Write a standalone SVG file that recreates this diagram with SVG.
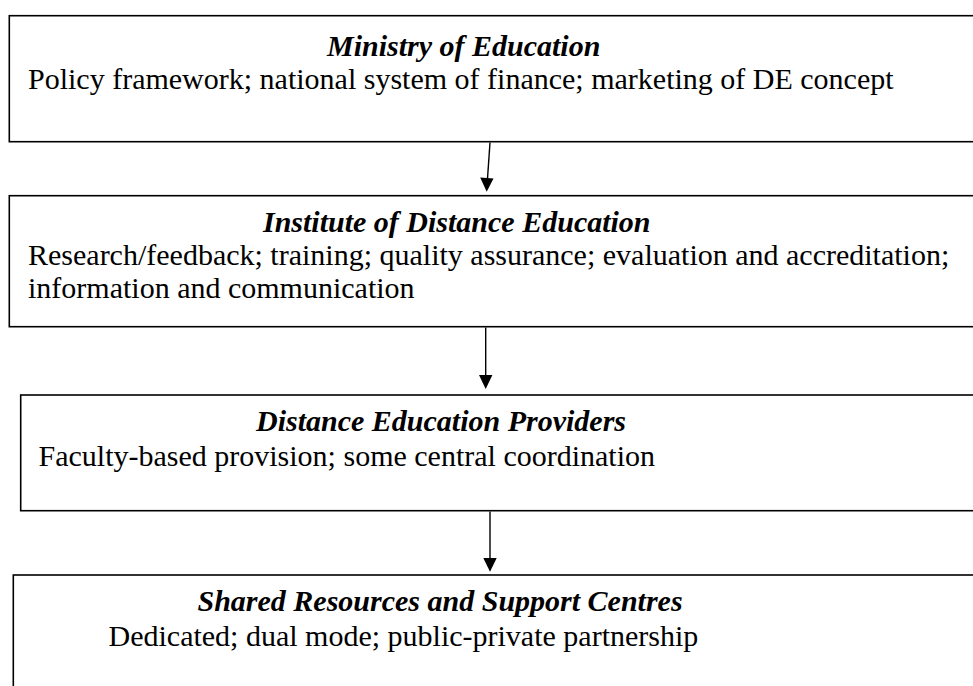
<svg xmlns="http://www.w3.org/2000/svg" width="973" height="686" viewBox="0 0 973 686">
<defs>
<style>
.box{fill:#fff;stroke:#000;stroke-width:1.6}
.h{font-family:"Liberation Serif","Times New Roman",serif;font-size:30px;font-weight:bold;font-style:italic;fill:#000}
.t{font-family:"Liberation Serif","Times New Roman",serif;font-size:30px;fill:#000}
.c{stroke:#000;stroke-width:1.4;fill:none}
.ah{fill:#000}
</style>
</defs>
<rect width="973" height="686" fill="#fff"/>
<g id="ministry">
<rect class="box" x="9.3" y="15.7" width="1000" height="126"/>
<text class="h" x="327" y="56">Ministry of Education</text>
<text class="t" x="28" y="89">Policy framework; national system of finance; marketing of DE concept</text>
</g>
<g id="institute">
<rect class="box" x="9.3" y="195.7" width="1000" height="131"/>
<text class="h" x="263" y="232">Institute of Distance Education</text>
<text class="t" x="28" y="265">Research/feedback; training; quality assurance; evaluation and accreditation;</text>
<text class="t" x="28" y="298">information and communication</text>
</g>
<g id="providers">
<rect class="box" x="20.7" y="395" width="1000" height="115.7"/>
<text class="h" x="256" y="431">Distance Education Providers</text>
<text class="t" x="38.5" y="466">Faculty-based provision; some central coordination</text>
</g>
<g id="shared">
<rect class="box" x="13.3" y="575" width="1000" height="200"/>
<text class="h" x="197.5" y="611">Shared Resources and Support Centres</text>
<text class="t" x="108.5" y="646">Dedicated; dual mode; public-private partnership</text>
</g>
<g id="connectors">
<line class="c" x1="490" y1="142.5" x2="487.4" y2="180"/>
<polygon class="ah" points="480.2,177.5 493.5,178.5 486.7,191.7"/>
<line class="c" x1="485.7" y1="327.5" x2="485.7" y2="377"/>
<polygon class="ah" points="479,375 492.4,375 485.7,389"/>
<line class="c" x1="490" y1="511.5" x2="490" y2="560"/>
<polygon class="ah" points="483.3,558 496.7,558 490,571.7"/>
</g>
</svg>
